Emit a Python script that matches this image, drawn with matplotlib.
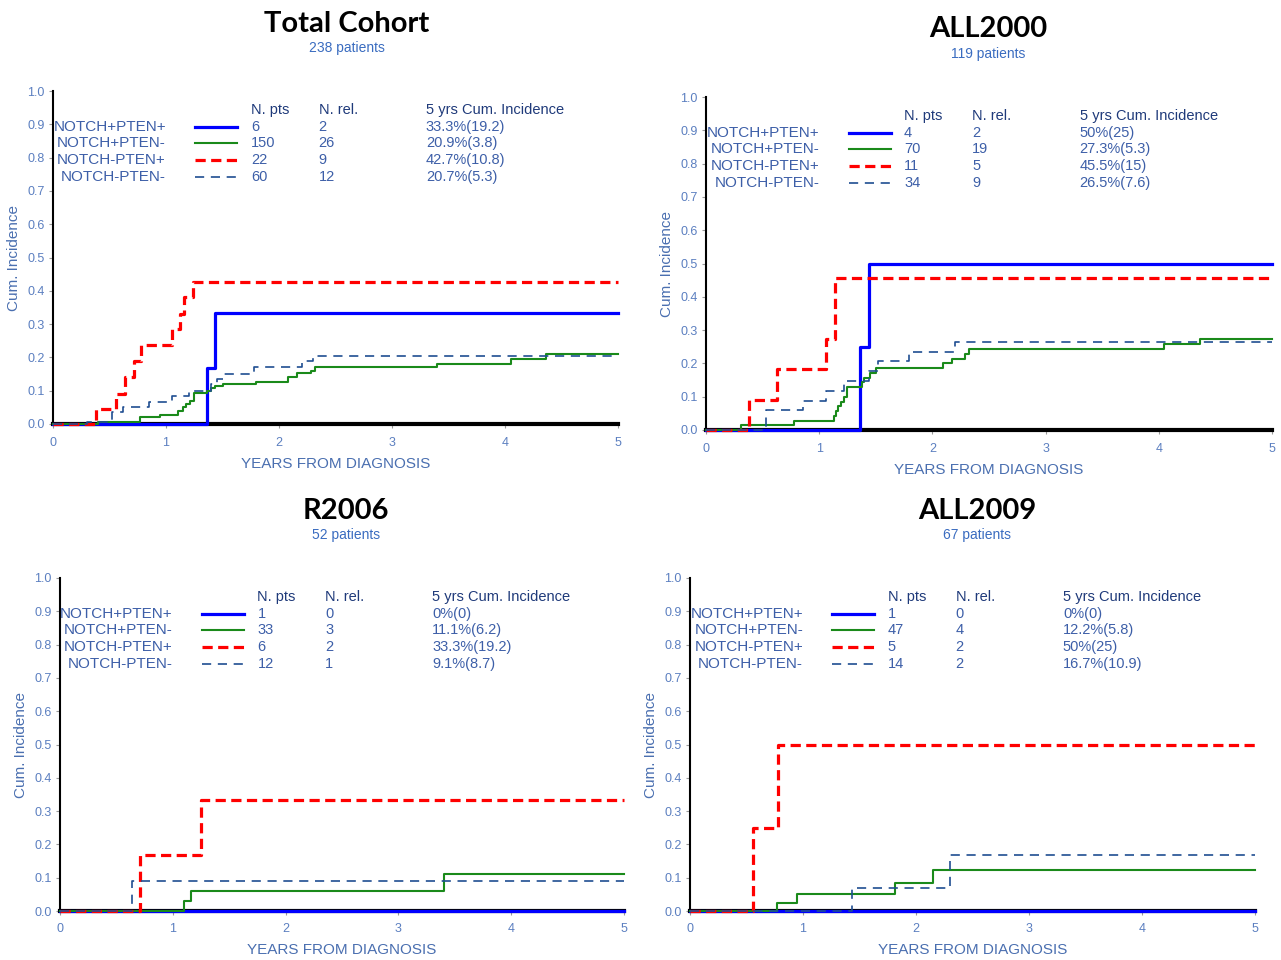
import matplotlib
matplotlib.use("Agg")
import matplotlib.pyplot as plt

plt.rcParams['font.family'] = ['Liberation Sans', 'DejaVu Sans']

# ---- data ----
groups = ['NOTCH+PTEN+', 'NOTCH+PTEN-', 'NOTCH-PTEN+', 'NOTCH-PTEN-']

panel_titles = ['Total Cohort', 'ALL2000', 'R2006', 'ALL2009']
panel_subtitles = ['238 patients', '119 patients', '52 patients', '67 patients']

n_pts = [[6, 150, 22, 60], [4, 70, 11, 34], [1, 33, 6, 12], [1, 47, 5, 14]]
n_rel = [[2, 26, 9, 12], [2, 19, 5, 9], [0, 3, 2, 1], [0, 4, 2, 2]]
cum5 = [['33.3%(19.2)', '20.9%(3.8)', '42.7%(10.8)', '20.7%(5.3)'],
        ['50%(25)', '27.3%(5.3)', '45.5%(15)', '26.5%(7.6)'],
        ['0%(0)', '11.1%(6.2)', '33.3%(19.2)', '9.1%(8.7)'],
        ['0%(0)', '12.2%(5.8)', '50%(25)', '16.7%(10.9)']]

# step curves (time in years, cumulative incidence after each step)
total_t = [
    [0, 1.36, 1.43, 5],
    [0, 0.40, 0.77, 0.95, 1.11, 1.15, 1.18, 1.21, 1.25, 1.36, 1.40, 1.43, 1.50,
     1.80, 2.08, 2.16, 2.28, 2.32, 3.40, 4.05, 4.36, 5],
    [0, 0.38, 0.56, 0.64, 0.72, 0.78, 1.05, 1.12, 1.16, 1.24, 5],
    [0, 0.30, 0.52, 0.62, 0.85, 1.05, 1.20, 1.40, 1.45, 1.50, 1.78, 2.20, 2.30, 5],
]
total_y = [
    [0, 0.167, 0.333, 0.333],
    [0, 0.006, 0.020, 0.027, 0.040, 0.050, 0.060, 0.070, 0.092, 0.100, 0.107,
     0.113, 0.120, 0.127, 0.140, 0.153, 0.160, 0.170, 0.180, 0.195, 0.209, 0.209],
    [0, 0.045, 0.091, 0.140, 0.190, 0.237, 0.285, 0.330, 0.380, 0.427, 0.427],
    [0, 0.005, 0.035, 0.050, 0.067, 0.085, 0.100, 0.120, 0.135, 0.150, 0.170,
     0.190, 0.205, 0.205],
]

all2000_t = [
    [0, 1.36, 1.44, 5],
    [0, 0.31, 0.78, 1.13, 1.15, 1.17, 1.19, 1.22, 1.25, 1.38, 1.40, 1.45, 1.50,
     2.09, 2.17, 2.29, 2.32, 4.05, 4.36, 5],
    [0, 0.38, 0.63, 1.06, 1.14, 5],
    [0, 0.53, 0.86, 1.06, 1.22, 1.44, 1.52, 1.79, 2.20, 5],
]
all2000_y = [
    [0, 0.25, 0.50, 0.50],
    [0, 0.014, 0.028, 0.042, 0.057, 0.071, 0.085, 0.100, 0.128, 0.143, 0.157,
     0.171, 0.186, 0.200, 0.214, 0.229, 0.243, 0.257, 0.273, 0.273],
    [0, 0.091, 0.182, 0.273, 0.455, 0.455],
    [0, 0.059, 0.088, 0.118, 0.147, 0.176, 0.206, 0.235, 0.265, 0.265],
]

r2006_t = [
    [0, 5],
    [0, 1.10, 1.16, 3.40, 5],
    [0, 0.71, 1.25, 5],
    [0, 0.64, 5],
]
r2006_y = [
    [0, 0],
    [0, 0.030, 0.061, 0.111, 0.111],
    [0, 0.167, 0.333, 0.333],
    [0, 0.091, 0.091],
]

all2009_t = [
    [0, 5],
    [0, 0.77, 0.95, 1.81, 2.15, 5],
    [0, 0.556, 0.78, 5],
    [0, 1.43, 2.30, 5],
]
all2009_y = [
    [0, 0],
    [0, 0.025, 0.050, 0.085, 0.122, 0.122],
    [0, 0.25, 0.50, 0.50],
    [0, 0.070, 0.167, 0.167],
]

curves_t = [total_t, all2000_t, r2006_t, all2009_t]
curves_y = [total_y, all2000_y, r2006_y, all2009_y]

# ---- styles ----
line_styles = [
    dict(color='#0000ff', lw=2.3, ls='-'),
    dict(color='#1a8a1a', lw=1.5, ls='-'),
    dict(color='#ff0000', lw=2.3, ls=(0, (3.2, 1.7))),
    dict(color='#1f4e91', lw=1.2, ls=(0, (5.5, 4.0))),
]
tick_col = '#5b7fc0'
text_col = '#3d5fa8'
head_col = '#1f3a7a'

W, H = 1281, 960
fig = plt.figure(figsize=(W / 100, H / 100), dpi=100)

# axes pixel boxes: left, x=5 pixel, y=0 pixel, y=1 pixel
boxes = [(53, 618, 424, 91), (706, 1272, 430, 97), (60, 624, 911, 578), (690, 1255, 911, 578)]
title_pos = [(347, 24, 48), (988, 29, 54), (346, 511, 535), (977, 511, 535)]
xlabel_y = [464, 470, 950, 950]

for i in range(4):
    l, r, b, t = boxes[i]
    ax = fig.add_axes([l / W, (H - b) / H, (r - l) / W, (b - t) / H])
    ax.set_xlim(0, 5)
    ax.set_ylim(0, 1)
    for k in range(4):
        ax.step(curves_t[i][k], curves_y[i][k], where='post', zorder=3,
                clip_on=False, **line_styles[k])

    for s in ['top', 'right']:
        ax.spines[s].set_visible(False)
    ax.spines['left'].set_linewidth(1.5)
    ax.spines['bottom'].set_linewidth(3)
    ax.spines['left'].set_color('black')
    ax.spines['bottom'].set_color('black')
    ax.set_xticks([0, 1, 2, 3, 4, 5])
    ax.set_yticks([i / 10 for i in range(11)])
    ax.set_yticklabels(['%.1f' % (i / 10) for i in range(11)])
    ax.tick_params(axis='both', colors='#999999', labelcolor=tick_col,
                   labelsize=9, length=3, width=0.8, pad=3)
    ax.tick_params(axis='x', pad=6)

    # legend table
    hy = 0.943
    rows = [0.892, 0.843, 0.793, 0.742]
    ax.text(1.75, hy, 'N. pts', color=head_col, fontsize=10.5, va='center')
    ax.text(2.35, hy, 'N. rel.', color=head_col, fontsize=10.5, va='center')
    ax.text(3.30, hy, '5 yrs Cum. Incidence', color=head_col, fontsize=10.5, va='center')
    for k in range(4):
        ax.text(1.0, rows[k], groups[k], color=text_col, fontsize=11,
                ha='right', va='center')
        ax.plot([1.26, 1.63], [rows[k], rows[k]], **line_styles[k])
        ax.text(1.75, rows[k], str(n_pts[i][k]), color=text_col, fontsize=10.5, va='center')
        ax.text(2.35, rows[k], str(n_rel[i][k]), color=text_col, fontsize=10.5, va='center')
        ax.text(3.30, rows[k], cum5[i][k], color=text_col, fontsize=10.5, va='center')

    # titles and axis labels
    tx, ty, sy = title_pos[i]
    fig.text(tx / W, 1 - ty / H, panel_titles[i], fontsize=21, fontweight='bold',
             family=['Lato', 'DejaVu Sans'], ha='center', va='center')
    fig.text(tx / W, 1 - sy / H, panel_subtitles[i], fontsize=10, color='#3a6cc0',
             ha='center', va='center')
    fig.text((l + (r - l) * 0.5) / W, 1 - xlabel_y[i] / H, 'YEARS FROM DIAGNOSIS',
             fontsize=11, color='#4a6fb0', ha='center', va='center')
    fig.text((l - 39) / W, 1 - (b - 166) / H, 'Cum. Incidence', fontsize=11,
             color='#4a6fb0', rotation=90, ha='center', va='center')

fig.savefig('out.png', dpi=100)
